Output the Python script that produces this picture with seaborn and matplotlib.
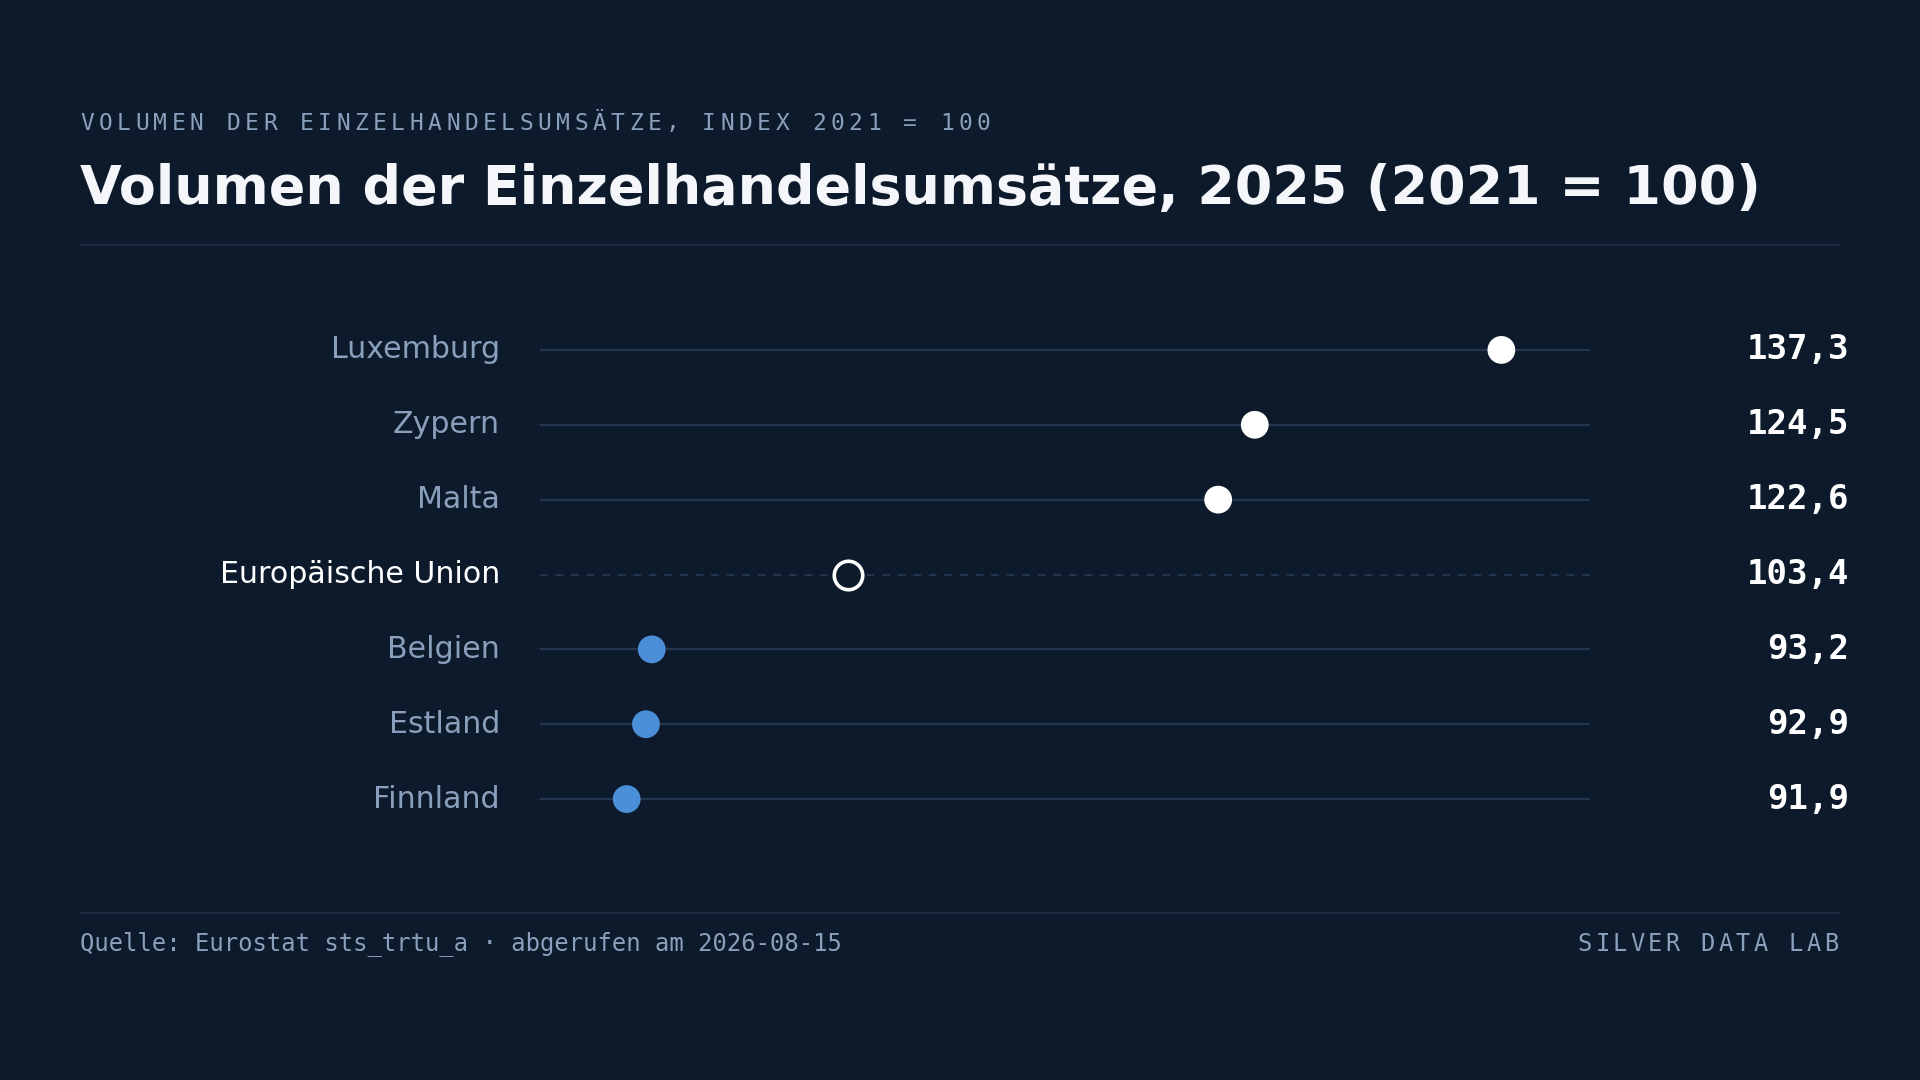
import numpy as np
import pandas as pd
import matplotlib
matplotlib.use('Agg')
import matplotlib.pyplot as plt
import matplotlib.transforms as mtransforms
import seaborn as sns

# data
countries = ['Luxemburg', 'Zypern', 'Malta', 'Europäische Union', 'Belgien', 'Estland', 'Finnland']
values = [137.3, 124.5, 122.6, 103.4, 93.2, 92.9, 91.9]
groups = ['hoch', 'hoch', 'hoch', 'eu', 'niedrig', 'niedrig', 'niedrig']

BG = '#0d1a2b'
MUTED = '#8a9fbb'
RULE = '#1c2b3f'
TRACK = '#22364f'
BLUE = '#4a8fd8'
WHITE = '#ffffff'

sns.set_theme(style='white')
plt.rcParams['font.family'] = ['DejaVu Sans']

df = pd.DataFrame({'land': countries, 'wert': values, 'gruppe': groups})
df['pos'] = np.arange(len(df))


def spaced_text(fig, x_px, y_px, s, pitch, align='left', **kw):
    # monospace text with letter spacing, one glyph at a time
    if align == 'right':
        x_px = x_px - (len(s) - 1) * pitch
    for i, ch in enumerate(s):
        fig.text((x_px + i * pitch) / 1920, 1 - y_px / 1080, ch, ha='left', va='center', **kw)


fig = plt.figure(figsize=(19.2, 10.8), dpi=100, facecolor=BG)
ax = fig.add_axes([540 / 1920, 1 - 836.5 / 1080, 1050 / 1920, 524 / 1080])
ax.set_facecolor(BG)

# tracks
for _, r in df.iterrows():
    if r['gruppe'] == 'eu':
        ax.axhline(r['pos'], color=TRACK, lw=1.4, ls=(0, (4, 4)), zorder=1)
    else:
        ax.axhline(r['pos'], color=TRACK, lw=1.6, zorder=1)

# dots
sns.scatterplot(data=df[df['gruppe'] == 'hoch'], x='wert', y='pos', color=WHITE,
                s=400, edgecolor='none', ax=ax, zorder=3, legend=False)
sns.scatterplot(data=df[df['gruppe'] == 'niedrig'], x='wert', y='pos', color=BLUE,
                s=400, edgecolor='none', ax=ax, zorder=3, legend=False)
sns.scatterplot(data=df[df['gruppe'] == 'eu'], x='wert', y='pos', color=BG,
                s=420, edgecolor=WHITE, linewidth=2.6, ax=ax, zorder=3, legend=False)

ax.set_xlim(87.4, 141.9)
ax.set_ylim(len(df) - 0.5, -0.5)
ax.set_xticks([])
ax.set_yticks([])
ax.set_xlabel('')
ax.set_ylabel('')
for s in ax.spines.values():
    s.set_visible(False)

trans = mtransforms.blended_transform_factory(ax.transAxes, ax.transData)
for _, r in df.iterrows():
    eu = r['gruppe'] == 'eu'
    ax.text(-40 / 1050, r['pos'], r['land'], transform=trans, ha='right', va='center',
            fontsize=21.6, color=WHITE if eu else MUTED)
    ax.text(1309 / 1050, r['pos'], f"{r['wert']:.1f}".replace('.', ','), transform=trans,
            ha='right', va='center', fontsize=24.5, fontweight='bold', color=WHITE,
            family='DejaVu Sans Mono')

# header
spaced_text(fig, 80, 123, 'VOLUMEN DER EINZELHANDELSUMSÄTZE, INDEX 2021 = 100', 18.3,
            fontsize=16.5, color=MUTED, family='DejaVu Sans Mono')
fig.text(80 / 1920, 1 - 189 / 1080, 'Volumen der Einzelhandelsumsätze, 2025 (2021 = 100)',
         fontsize=38.8, fontweight='bold', color='#f4f6f9', va='center', ha='left')
fig.add_artist(plt.Line2D([80 / 1920, 1840 / 1920], [1 - 245 / 1080, 1 - 245 / 1080],
                          color=RULE, lw=1.3))

# footer
fig.add_artist(plt.Line2D([80 / 1920, 1840 / 1920], [1 - 913 / 1080, 1 - 913 / 1080],
                          color=RULE, lw=1.3))
fig.text(80 / 1920, 1 - 944 / 1080, 'Quelle: Eurostat sts_trtu_a · abgerufen am 2026-08-15',
         fontsize=17.2, color=MUTED, family='DejaVu Sans Mono', va='center', ha='left')
spaced_text(fig, 1838 - 14, 944, 'SILVER DATA LAB', 17.6, align='right',
            fontsize=17, color=MUTED, family='DejaVu Sans Mono')

fig.savefig('out.png', dpi=100, facecolor=BG)
